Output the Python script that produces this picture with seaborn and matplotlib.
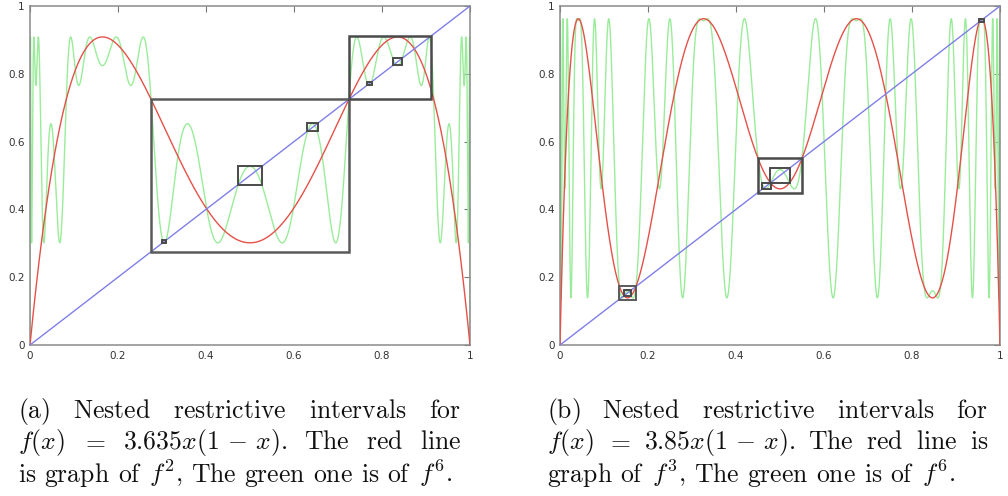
import numpy as np
import pandas as pd
import matplotlib
matplotlib.use("Agg")
import matplotlib.pyplot as plt
from matplotlib.patches import Rectangle
import seaborn as sns

# ---- data ----
r_a = 3.635          # parameter of panel (a)
r_b = 3.85           # parameter of panel (b)
red_iter_a = 2       # red curve f^2
red_iter_b = 3       # red curve f^3
green_iter = 6       # green curve f^6
tick_vals = [0, 0.2, 0.4, 0.6, 0.8, 1]
tick_labels = ["0", "0.2", "0.4", "0.6", "0.8", "1"]
# nested restrictive intervals (square boxes lo..hi on both axes)
box_lo_a = [0.275, 0.725, 0.473, 0.630, 0.826, 0.767, 0.301]
box_hi_a = [0.725, 0.912, 0.527, 0.654, 0.846, 0.777, 0.309]
box_lo_b = [0.134, 0.449, 0.477, 0.459, 0.952, 0.145]
box_hi_b = [0.173, 0.551, 0.523, 0.479, 0.963, 0.161]

cap_a = [
    [r"$\mathrm{(a)}$", r"$\mathrm{Nested}$", r"$\mathrm{restrictive}$", r"$\mathrm{intervals}$", r"$\mathrm{for}$"],
    [r"$f(x)$", r"$=$", r"$3.635x(1\,-\,x).$", r"$\mathrm{The}$", r"$\mathrm{red}$", r"$\mathrm{line}$"],
    [r"$\mathrm{is}$", r"$\mathrm{graph}$", r"$\mathrm{of}$", r"$f^2\mathrm{,}$", r"$\mathrm{The}$",
     r"$\mathrm{green}$", r"$\mathrm{one}$", r"$\mathrm{is}$", r"$\mathrm{of}$", r"$f^6\mathrm{.}$"],
]
cap_b = [
    [r"$\mathrm{(b)}$", r"$\mathrm{Nested}$", r"$\mathrm{restrictive}$", r"$\mathrm{intervals}$", r"$\mathrm{for}$"],
    [r"$f(x)$", r"$=$", r"$3.85x(1\,-\,x).$", r"$\mathrm{The}$", r"$\mathrm{red}$", r"$\mathrm{line}$", r"$\mathrm{is}$"],
    [r"$\mathrm{graph}$", r"$\mathrm{of}$", r"$f^3\mathrm{,}$", r"$\mathrm{The}$",
     r"$\mathrm{green}$", r"$\mathrm{one}$", r"$\mathrm{is}$", r"$\mathrm{of}$", r"$f^6\mathrm{.}$"],
]

sns.set_style("white")
plt.rcParams["mathtext.fontset"] = "cm"
plt.rcParams["font.family"] = ["DejaVu Sans"]

W, H = 1008, 496
fig = plt.figure(figsize=(W / 100, H / 100), dpi=100)

x = np.linspace(0, 1, 6001)


def iterate(r, n):
    y = x.copy()
    for _ in range(n):
        y = r * y * (1 - y)
    return y


RED = "#e5514a"
GREEN = "#9aec9a"
BLUE = "#7f7fe8"
BOX = "#4a4a4a"


def panel(left_px, r, red_n, lo, hi):
    ax = fig.add_axes([left_px / W, 151 / H, 440 / W, 339 / H])
    df = pd.DataFrame({"x": x, "red": iterate(r, red_n), "green": iterate(r, green_iter)})
    sns.lineplot(data=df, x="x", y="green", ax=ax, color=GREEN, linewidth=1.0,
                 estimator=None, sort=False, zorder=2)
    sns.lineplot(data=df, x="x", y="red", ax=ax, color=RED, linewidth=1.0,
                 estimator=None, sort=False, zorder=3)
    sns.lineplot(x=[0, 1], y=[0, 1], ax=ax, color=BLUE, linewidth=1.0,
                 estimator=None, zorder=4)
    for i, (a, b) in enumerate(zip(lo, hi)):
        lw = 1.8 if (b - a) > 0.08 else 1.4
        ax.add_patch(Rectangle((a, a), b - a, b - a, fill=False,
                               edgecolor=BOX if i else "#5a5a5a", linewidth=lw, zorder=5))
    ax.set_xlim(0, 1)
    ax.set_ylim(0, 1)
    ax.set_xlabel("")
    ax.set_ylabel("")
    ax.set_xticks(tick_vals)
    ax.set_yticks(tick_vals)
    ax.set_xticklabels(tick_labels)
    ax.set_yticklabels(tick_labels)
    ax.tick_params(direction="in", length=4, width=0.8, color="#777777",
                   top=True, right=True, labelsize=7.5, labelcolor="#333333", pad=4)
    for s in ax.spines.values():
        s.set_color("#8a8a8a")
        s.set_linewidth(1.1)
    return ax


panel(30, r_a, red_iter_a, box_lo_a, box_hi_a)
panel(560, r_b, red_iter_b, box_lo_b, box_hi_b)

fig.canvas.draw()
renderer = fig.canvas.get_renderer()
FS = 18.5
SPACE = 0.30 * FS * 100 / 72


def put_line(words, x0, x1, ybase, justify=True):
    texts = [fig.text(0, 1 - ybase / H, w, fontsize=FS, ha="left", va="baseline", color="#111111")
             for w in words]
    widths = [t.get_window_extent(renderer).width for t in texts]
    gap = (x1 - x0 - sum(widths)) / (len(words) - 1)
    if not justify:
        gap = min(gap, SPACE)
    gap = max(gap, 2)
    cx = x0
    for t, w in zip(texts, widths):
        t.set_x(cx / W)
        cx += w + gap


bases = [418.0, 449.0, 482.0]
ends_a = [461, 461, 461]
ends_b = [988, 988, 988]
for k, (words, yb, xe) in enumerate(zip(cap_a, bases, ends_a)):
    put_line(words, 18, xe, yb, justify=(k < 2))
for k, (words, yb, xe) in enumerate(zip(cap_b, bases, ends_b)):
    put_line(words, 547, xe, yb, justify=(k < 2))

fig.savefig("out.png", dpi=100)
